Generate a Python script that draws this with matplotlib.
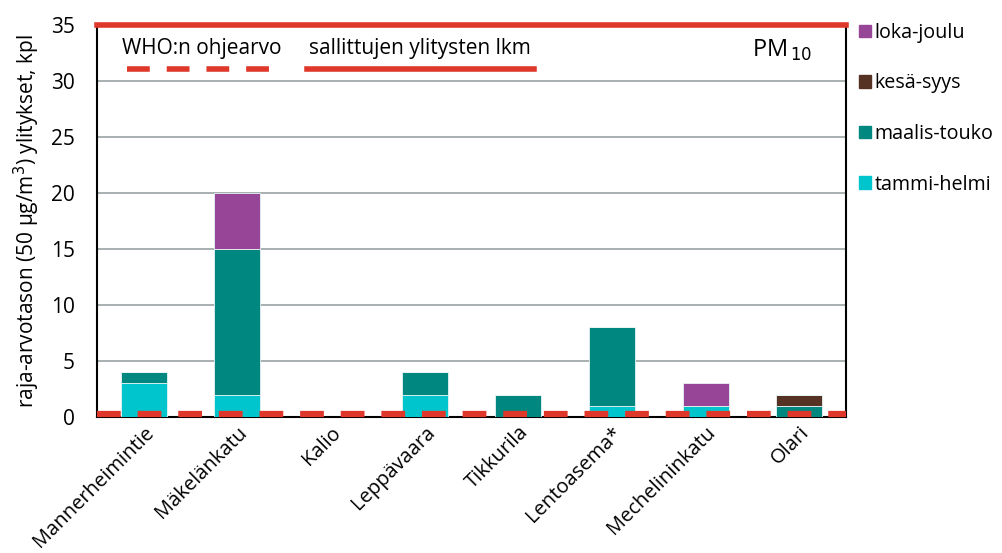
import matplotlib.pyplot as plt
import numpy as np
from matplotlib.lines import Line2D

plt.rcParams['font.family'] = ['Open Sans', 'DejaVu Sans']

stations = ["Mannerheimintie", "Mäkelänkatu", "Kalio", "Leppävaara",
            "Tikkurila", "Lentoasema*", "Mechelininkatu", "Olari"]
tammi_helmi = [3, 2, 0, 2, 0, 1, 1, 0]
maalis_touko = [1, 13, 0, 2, 2, 7, 0, 1]
kesa_syys = [0, 0, 0, 0, 0, 0, 0, 1]
loka_joulu = [0, 5, 0, 0, 0, 0, 2, 0]
raja_lkm = 35
who_lkm = 0.25

series = [("tammi-helmi", tammi_helmi, "#00C5CD"),
          ("maalis-touko", maalis_touko, "#00877F"),
          ("kesä-syys", kesa_syys, "#553224"),
          ("loka-joulu", loka_joulu, "#964597")]
red = "#E0372B"
fs = 15

fig = plt.figure(figsize=(10.03, 5.53), dpi=100)
ax = fig.add_axes([97/1003, 1 - 417/553, (846-97)/1003, (417-25)/553])

x = np.arange(len(stations))
bottom = np.zeros(len(stations))
handles = []
for name, vals, col in series:
    vals = np.array(vals, dtype=float)
    ax.bar(x, vals, 0.49, bottom=bottom, color=col, edgecolor="#e8f4f4",
           linewidth=0.6, zorder=3)
    bottom += vals
    handles.append(plt.Rectangle((0, 0), 1, 1, color=col))

ax.set_xlim(-0.5, len(stations) - 0.5)
ax.set_ylim(0, 35)
ax.set_yticks(range(0, 36, 5))
ax.yaxis.grid(True, color="#8f9a9c", linewidth=1.1, zorder=0)
ax.tick_params(axis="y", length=0, labelsize=fs, pad=16)
ax.tick_params(axis="x", length=0, labelsize=14.5, pad=4)
ax.set_xticks(x)
ax.set_xticklabels(stations, rotation=45, ha="right", rotation_mode="anchor")
for s in ["left", "bottom", "right"]:
    ax.spines[s].set_color("black")
    ax.spines[s].set_linewidth(1.5)
ax.spines["top"].set_visible(False)

ax.axhline(raja_lkm, color=red, linewidth=4, zorder=5, clip_on=False)
ax.axhline(who_lkm, color=red, linewidth=4.5, zorder=5,
           dashes=(3.8, 2.7), clip_on=False)

ax.set_ylabel("raja-arvotason (50 µg/m$^3$) ylitykset, kpl", fontsize=fs, labelpad=6)

# line legend inside the plot
ax.text(0.033, 0.94, "WHO:n ohjearvo", transform=ax.transAxes, fontsize=fs,
        va="center", ha="left")
ax.add_line(Line2D([0.04, 0.234], [0.888, 0.888], transform=ax.transAxes,
                   color=red, linewidth=4, dashes=(4.1, 3.05)))
ax.text(0.283, 0.94, "sallittujen ylitysten lkm", transform=ax.transAxes,
        fontsize=fs, va="center", ha="left")
ax.add_line(Line2D([0.28, 0.584], [0.888, 0.888], transform=ax.transAxes,
                   color=red, linewidth=4))
ax.text(0.875, 0.935, "PM$_{\\,10}$", transform=ax.transAxes, fontsize=17,
        va="center", ha="left")

leg = fig.legend(handles[::-1], [s[0] for s in series][::-1],
                 loc="upper left", bbox_to_anchor=(851/1003, 1 - 15/553),
                 frameon=False, fontsize=14.2, handlelength=0.6, handleheight=0.6,
                 handletextpad=0.2, labelspacing=1.55, borderaxespad=0)

fig.savefig("out.png", dpi=100)
